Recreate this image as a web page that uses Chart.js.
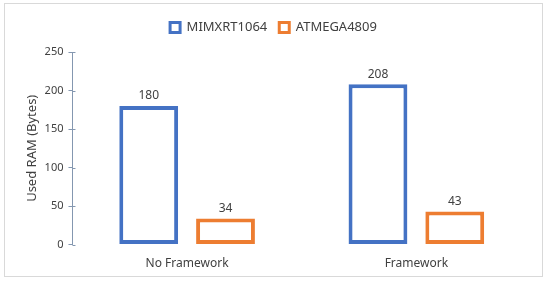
<!DOCTYPE html>
<html>
<head>
<meta charset="utf-8">
<script src="https://cdn.jsdelivr.net/npm/chart.js@4/dist/chart.umd.min.js"></script>
<style>
  body { margin:0; background:#fff; }
  #wrap { position:relative; width:550px; height:282px; }
  #frame { position:absolute; left:4px; top:3px; width:539px; height:274px; border:1px solid #d9d9d9; box-sizing:border-box; pointer-events:none; }
</style>
</head>
<body>
<div id="wrap">
  <canvas id="ramChart" width="550" height="282"></canvas>
  <div id="frame"></div>
</div>
<script>
const categories = ['No Framework', 'Framework'];
const mimxrtRam = [180, 208];
const atmegaRam = [34, 43];
const yTicks = [0, 50, 100, 150, 200, 250];

const FONT = '"Noto Sans", sans-serif';
const TEXT = '#404040';
const AXIS = '#8497B0';

// value labels above each bar
const barLabels = {
  id: 'barLabels',
  afterDatasetsDraw(chart) {
    const ctx = chart.ctx;
    ctx.save();
    ctx.font = '12px ' + FONT;
    ctx.fillStyle = TEXT;
    ctx.textAlign = 'center';
    ctx.textBaseline = 'bottom';
    chart.data.datasets.forEach((ds, i) => {
      chart.getDatasetMeta(i).data.forEach((bar, j) => {
        ctx.fillText(ds.data[j], bar.x, bar.y - 4);
      });
    });
    ctx.restore();
  }
};

// small tick stubs inside the y axis, like the original crossing ticks
const innerTicks = {
  id: 'innerTicks',
  afterDraw(chart) {
    const y = chart.scales.y, ctx = chart.ctx;
    ctx.save();
    ctx.strokeStyle = AXIS;
    ctx.lineWidth = 1;
    y.ticks.forEach(t => {
      const py = Math.round(y.getPixelForValue(t.value)) + 0.5;
      ctx.beginPath();
      ctx.moveTo(y.right, py);
      ctx.lineTo(y.right + 3, py);
      ctx.stroke();
    });
    ctx.restore();
  }
};

// extra room under the legend
const legendGap = {
  id: 'legendGap',
  beforeInit(chart) {
    const fit = chart.legend.fit;
    chart.legend.fit = function () {
      fit.bind(chart.legend)();
      this.height += 8;
    };
  }
};

new Chart(document.getElementById('ramChart'), {
  type: 'bar',
  data: {
    labels: categories,
    datasets: [
      { label: 'MIMXRT1064', data: mimxrtRam, backgroundColor: '#ffffff', borderColor: '#4472C4', borderWidth: 4, borderSkipped: false },
      { label: 'ATMEGA4809', data: atmegaRam, backgroundColor: '#ffffff', borderColor: '#ED7D31', borderWidth: 4, borderSkipped: false }
    ]
  },
  options: {
    responsive: false,
    animation: false,
    datasets: { bar: { categoryPercentage: 0.67, barPercentage: 0.766 } },
    layout: { padding: { left: 16, right: 19, top: 9, bottom: 7 } },
    plugins: {
      tooltip: { enabled: false },
      legend: {
        position: 'top',
        labels: {
          font: { family: FONT, size: 13 },
          color: TEXT,
          boxWidth: 10,
          boxHeight: 10,
          padding: 12,
          generateLabels(chart) {
            return chart.data.datasets.map((ds, i) => ({
              text: ds.label,
              fillStyle: '#ffffff',
              strokeStyle: ds.borderColor,
              lineWidth: 3,
              datasetIndex: i,
              fontColor: TEXT
            }));
          }
        }
      }
    },
    scales: {
      x: {
        grid: { display: false },
        border: { display: false },
        ticks: { font: { family: FONT, size: 12 }, color: TEXT, padding: 4 }
      },
      y: {
        min: 0,
        max: 250,
        afterBuildTicks(axis) { axis.ticks = yTicks.map(v => ({ value: v })); },
        grid: { drawOnChartArea: false, drawTicks: true, tickLength: 4, color: AXIS },
        border: { display: true, color: AXIS, width: 1 },
        ticks: { font: { family: FONT, size: 11 }, color: TEXT, padding: 5 },
        title: { display: true, text: 'Used RAM (Bytes)', font: { family: FONT, size: 13 }, color: TEXT, padding: { top: 8, bottom: 0 } }
      }
    }
  },
  plugins: [barLabels, innerTicks, legendGap]
});
</script>
</body>
</html>
